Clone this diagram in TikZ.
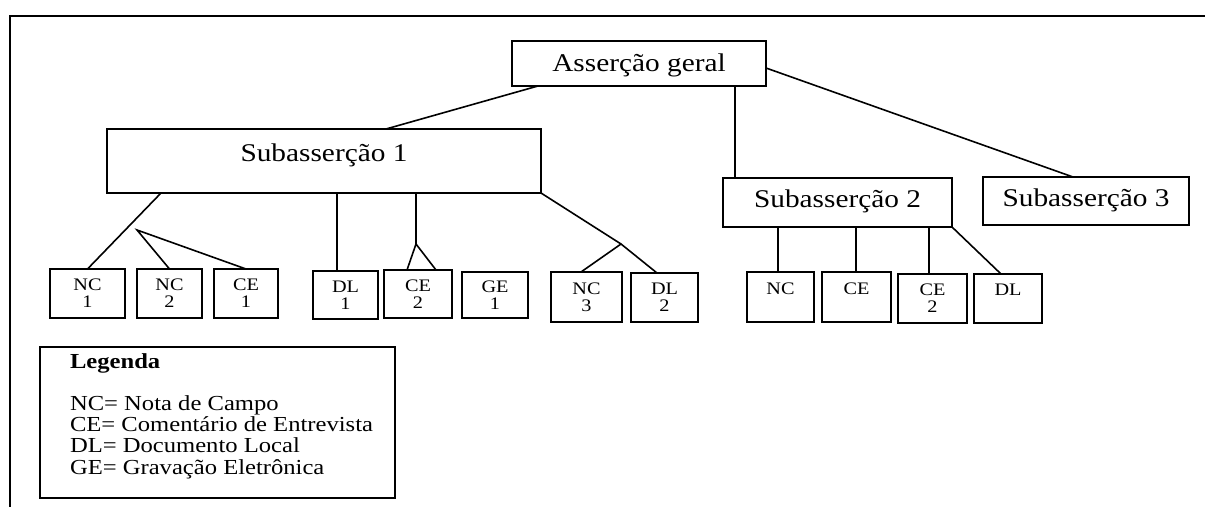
\documentclass[tikz,border=0pt]{standalone}
\usepackage{fontspec}
\usepackage{graphicx}
\setmainfont{Liberation Serif}
\newcommand\myBigFont{\fontsize{12.75}{14}\selectfont}
\newcommand\mySmallFont{\fontsize{8.8}{8.5}\selectfont}
\newcommand\myLegFont{\fontsize{10.7}{11}\selectfont}
\newcommand\sx[1]{\scalebox{1.15}[1]{#1}}
\tikzset{
  every node/.style={inner sep=0pt, outer sep=0pt},
  bigbox/.style={draw, line width=0.9pt, font=\myBigFont, text height=8.4pt, text depth=0pt},
  smallbox/.style={draw, line width=1.1pt, font=\mySmallFont, align=center},
  legbox/.style={draw, line width=1.1pt},
  legtext/.style={anchor=base west, font=\myLegFont},
  conn/.style={line width=0.8pt},
  framestyle/.style={line width=1.4pt}
}
\begin{document}
\begin{tikzpicture}[x=0.5pt,y=-0.5pt]
\fill[white] (0,0) rectangle (1205,507);
\useasboundingbox (0,0) rectangle (1205,507);
% frame
\coordinate (fbl) at (10,507);
\coordinate (ftl) at (10,16);
\coordinate (ftr) at (1205,16);
\draw[framestyle] (fbl) -- (ftl) -- (ftr);

% main boxes
\node[bigbox, minimum width=127pt, minimum height=22.5pt] (ag) at (639,63.5) {\sx{Asserção geral}};
\node[bigbox, minimum width=217pt, minimum height=32pt] (s1) at (324,161) {\raisebox{4pt}{\sx{Subasserção 1}}};
\node[bigbox, minimum width=114.5pt, minimum height=24.5pt] (s2) at (837.5,202.5) {\raisebox{1.5pt}{\sx{Subasserção 2}}};
\node[bigbox, minimum width=103pt, minimum height=24pt] (s3) at (1086,201) {\raisebox{1.5pt}{\sx{Subasserção 3}}};

% small boxes
\node[smallbox, minimum width=37.5pt, minimum height=24.5pt] (nc1) at (87.5,293.5) {\sx{NC}\\\sx{1}};
\node[smallbox, minimum width=32.5pt, minimum height=24.5pt] (nc2) at (169.5,293.5) {\sx{NC}\\\sx{2}};
\node[smallbox, minimum width=32pt, minimum height=24.5pt] (ce1) at (246,293.5) {\sx{CE}\\\sx{1}};
\node[smallbox, minimum width=32.5pt, minimum height=24pt] (dl1) at (345.5,295) {\sx{DL}\\\sx{1}};
\node[smallbox, minimum width=34pt, minimum height=24pt] (ce2) at (418,294) {\sx{CE}\\\sx{2}};
\node[smallbox, minimum width=33pt, minimum height=23pt] (ge1) at (495,295) {\sx{GE}\\\sx{1}};
\node[smallbox, minimum width=35.5pt, minimum height=25pt] (nc3) at (586.5,297) {\sx{NC}\\\sx{3}};
\node[smallbox, minimum width=33.5pt, minimum height=24.5pt] (dl2) at (664.5,297.5) {\sx{DL}\\\sx{2}};
\node[smallbox, minimum width=33.5pt, minimum height=25pt] (nc) at (780.5,297) {\sx{NC}\\\phantom{1}};
\node[smallbox, minimum width=34.5pt, minimum height=25pt] (ce) at (856.5,297) {\sx{CE}\\\phantom{1}};
\node[smallbox, minimum width=34.5pt, minimum height=24.5pt] (ce2b) at (932.5,298.5) {\sx{CE}\\\sx{2}};
\node[smallbox, minimum width=34pt, minimum height=24.5pt] (dl) at (1008,298.5) {\sx{DL}\\\phantom{1}};

% branch points
\coordinate (b1) at (137,230);
\coordinate (b2) at (416,244);
\coordinate (b3) at (621,244);

% connectors
\draw[conn] ([xshift=13pt]ag.south west) -- ([xshift=139.5pt]s1.north west);
\draw[conn] ([xshift=111.5pt]ag.south west) -- ([xshift=6pt]s2.north west);
\draw[conn] ([yshift=-2.25pt]ag.east) -- ([xshift=45pt]s3.north west);

\draw[conn] ([xshift=27pt]s1.south west) -- (nc1.north);
\draw[conn] (nc2.north) -- (b1) -- (ce1.north);
\draw[conn] ([xshift=115pt]s1.south west) -- ([xshift=12pt]dl1.north west);
\draw[conn] ([xshift=154.5pt]s1.south west) -- (b2);
\draw[conn] ([xshift=11.5pt]ce2.north west) -- (b2) -- ([xshift=26pt]ce2.north west);
\draw[conn] (s1.south east) -- (b3);
\draw[conn] ([xshift=15pt]nc3.north west) -- (b3) -- ([xshift=13pt]dl2.north west);

\draw[conn] ([xshift=27.5pt]s2.south west) -- ([xshift=15.5pt]nc.north west);
\draw[conn] ([xshift=66.5pt]s2.south west) -- ([xshift=17pt]ce.north west);
\draw[conn] ([xshift=103pt]s2.south west) -- ([xshift=15.5pt]ce2b.north west);
\draw[conn] (s2.south east) -- ([xshift=13.5pt]dl.north west);

% legend
\node[legbox, minimum width=177.5pt, minimum height=75.5pt] (leg) at (217.5,422.5) {};
\node[legtext] (lh) at (70,369) {\sx{\textbf{Legenda}}};
\node[legtext] (l1) at (70,411) {\sx{NC= Nota de Campo}};
\node[legtext] (l2) at (70,432) {\sx{CE= Comentário de Entrevista}};
\node[legtext] (l3) at (70,453) {\sx{DL= Documento Local}};
\node[legtext] (l4) at (70,474) {\sx{GE= Gravação Eletrônica}};
\end{tikzpicture}
\end{document}
